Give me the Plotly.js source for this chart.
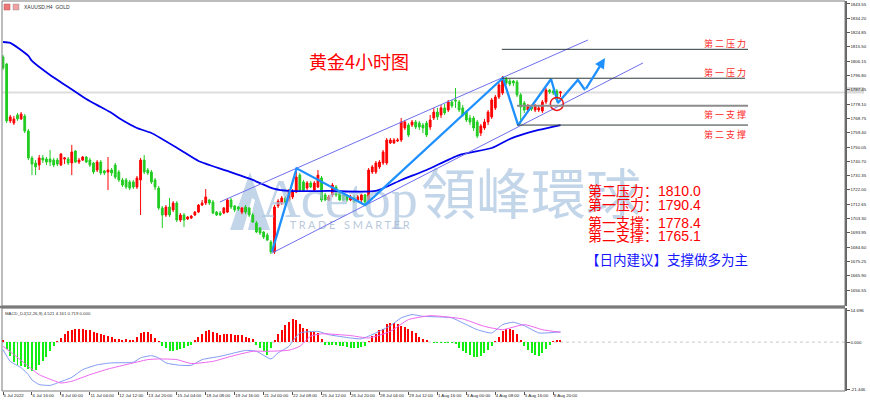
<!DOCTYPE html>
<html><head><meta charset="utf-8">
<script src="https://cdn.plot.ly/plotly-3.0.1.min.js"></script>
<style>html,body{margin:0;padding:0;background:#fff}#chart{width:870px;height:403px}</style>
</head><body><div id="chart"></div>
<script>
// ---------------- DATA ----------------
const openP = [1808.9,1804.3,1767.1,1765.7,1771.0,1768.4,1770.3,1760.5,1742.9,1739.6,
1738.3,1742.9,1742.2,1742.2,1741.5,1741.5,1738.3,1742.2,1742.2,1739.6,
1747.4,1740.2,1741.5,1743.5,1741.5,1739.6,1735.0,1740.2,1734.4,1733.7,
1735.0,1738.3,1733.7,1728.5,1728.5,1727.2,1727.2,1723.9,1728.5,1741.5,
1735.0,1733.7,1728.5,1723.2,1710.2,1705.6,1710.8,1708.9,1713.4,1702.3,
1705.6,1703.0,1703.6,1705.6,1707.5,1712.1,1713.4,1715.4,1714.1,1707.5,
1706.9,1706.9,1707.5,1715.4,1711.5,1710.8,1707.5,1710.8,1710.2,1705.6,
1700.4,1697.1,1694.5,1692.5,1687.9,1681.4,1711.5,1713.4,1716.7,1715.4,
1717.4,1720.6,1731.7,1727.2,1723.2,1726.5,1721.9,1723.9,1729.8,1718.7,
1715.4,1718.7,1723.9,1720.6,1718.7,1718.0,1715.4,1717.4,1715.4,1715.4,
1718.7,1714.1,1733.7,1733.7,1737.0,1739.6,1739.6,1752.7,1752.7,1754.0,
1754.6,1762.5,1764.4,1764.4,1766.4,1765.7,1764.4,1765.7,1763.1,1769.0,
1772.9,1771.0,1775.6,1774.2,1779.5,1780.8,1779.5,1775.6,1772.9,1769.0,
1769.0,1766.4,1759.2,1762.5,1766.4,1769.7,1775.6,1782.7,1785.4,1794.5,
1793.2,1793.2,1792.6,1784.1,1778.8,1774.2,1776.2,1774.2,1774.2,1773.6,
1779.5,1787.3,1786.7,1786.7,1785.4];
const highP = [1810.2,1805.0,1771.0,1770.3,1772.3,1772.9,1771.6,1761.8,1744.2,1741.5,
1744.8,1744.8,1743.5,1748.1,1742.9,1742.9,1746.1,1743.5,1743.5,1751.4,
1748.1,1742.9,1744.2,1744.2,1742.9,1740.2,1741.5,1741.5,1735.0,1743.5,
1736.3,1739.6,1735.0,1729.8,1729.8,1728.5,1728.5,1731.1,1742.9,1744.8,
1736.3,1735.0,1729.8,1724.5,1711.5,1712.1,1716.7,1714.7,1714.7,1706.9,
1706.9,1704.9,1705.6,1708.2,1712.8,1715.4,1722.6,1716.0,1715.4,1708.2,
1708.2,1710.8,1716.7,1716.7,1712.1,1711.5,1710.8,1712.1,1710.8,1706.9,
1701.7,1697.7,1695.1,1693.8,1689.2,1712.1,1716.0,1718.0,1718.0,1722.6,
1722.6,1736.3,1733.1,1728.5,1727.8,1727.8,1727.8,1735.0,1731.1,1720.0,
1718.7,1726.5,1725.2,1721.9,1720.0,1718.7,1718.7,1718.7,1718.7,1719.3,
1719.3,1736.3,1738.3,1740.9,1741.5,1748.1,1755.9,1755.9,1755.9,1755.9,
1769.0,1767.7,1765.7,1767.7,1767.7,1767.1,1765.7,1767.1,1771.0,1775.6,
1775.6,1777.5,1778.2,1780.8,1780.8,1788.6,1780.8,1777.5,1774.2,1771.0,
1770.3,1767.7,1765.1,1768.4,1774.2,1782.1,1784.1,1791.9,1796.5,1795.8,
1794.5,1793.9,1793.9,1785.4,1780.1,1778.2,1777.5,1778.2,1777.5,1780.8,
1788.6,1788.0,1788.0,1788.0,1786.7];
const lowP = [1800.4,1765.7,1765.7,1764.4,1767.1,1767.7,1759.2,1741.5,1731.7,1731.7,
1735.0,1739.6,1738.3,1737.6,1737.0,1737.6,1737.6,1738.9,1738.3,1731.7,
1739.6,1738.9,1740.9,1739.6,1737.0,1732.4,1733.7,1731.7,1731.7,1721.9,
1731.1,1729.1,1727.2,1723.9,1722.6,1721.9,1722.6,1722.6,1705.6,1732.4,
1731.7,1725.9,1721.9,1708.9,1697.1,1704.3,1704.3,1707.5,1701.0,1701.0,
1697.7,1702.3,1703.0,1704.9,1706.9,1711.5,1712.1,1712.1,1706.2,1704.9,
1704.9,1706.2,1706.9,1709.5,1707.5,1708.2,1706.2,1706.2,1704.3,1700.4,
1693.8,1692.5,1689.9,1688.6,1680.1,1680.1,1710.2,1712.1,1712.1,1714.1,
1716.0,1720.0,1720.6,1720.6,1721.9,1723.2,1720.6,1723.2,1714.1,1714.7,
1714.7,1717.4,1717.4,1714.7,1714.7,1714.1,1714.7,1713.4,1714.7,1714.1,
1712.1,1712.8,1732.4,1732.4,1735.7,1738.3,1738.3,1752.0,1752.0,1753.3,
1753.3,1761.2,1756.6,1763.1,1761.8,1761.2,1759.2,1756.6,1761.2,1767.7,
1767.7,1769.0,1771.0,1772.9,1775.6,1775.6,1772.9,1769.7,1766.4,1764.4,
1760.5,1755.9,1757.2,1761.2,1764.4,1768.4,1774.2,1781.4,1784.1,1790.6,
1789.9,1789.9,1782.7,1765.1,1772.3,1772.9,1773.6,1772.9,1772.9,1772.3,
1778.2,1784.7,1784.1,1779.5,1782.7];
const closeP = [1801.7,1767.1,1769.7,1768.4,1768.4,1771.6,1760.5,1742.9,1738.9,1737.0,
1742.9,1741.5,1740.2,1740.2,1738.3,1738.9,1745.5,1742.9,1739.6,1746.8,
1740.2,1741.5,1743.5,1740.2,1738.3,1733.7,1740.2,1733.1,1733.1,1735.0,
1733.1,1730.4,1728.5,1725.2,1723.9,1723.2,1723.9,1729.8,1741.5,1733.7,
1733.1,1727.2,1723.9,1710.2,1705.6,1710.8,1705.6,1713.4,1702.3,1705.6,
1702.3,1704.3,1704.9,1707.5,1712.1,1713.4,1717.4,1713.4,1706.9,1705.6,
1705.6,1710.2,1715.4,1710.8,1708.9,1709.5,1710.2,1707.5,1705.6,1701.0,
1694.5,1693.8,1691.2,1689.2,1681.4,1710.8,1714.7,1716.7,1713.4,1721.9,
1720.6,1730.4,1721.9,1721.9,1726.5,1723.9,1726.5,1731.7,1715.4,1715.4,
1717.4,1725.2,1718.7,1715.4,1715.4,1715.4,1717.4,1714.1,1717.4,1718.7,
1714.1,1735.0,1737.0,1739.6,1740.2,1746.8,1754.6,1754.6,1754.6,1754.6,
1766.4,1766.4,1757.9,1766.4,1763.1,1763.1,1762.5,1757.9,1767.7,1772.9,
1769.7,1775.6,1772.3,1779.5,1776.9,1780.1,1774.2,1771.0,1767.7,1766.4,
1762.5,1757.2,1763.8,1766.4,1772.9,1780.8,1782.7,1790.6,1795.2,1791.9,
1791.2,1791.9,1784.1,1776.2,1774.2,1776.9,1774.9,1776.9,1775.6,1779.5,
1787.3,1786.0,1785.4,1780.8,1786.0];

// moving average (blue line): bar index -> price
const maIdx = [0,2,7,8,13,18,23,27,30,32,37,41,49,54,62,69,75,79,90,103,110,117,126,135,140,144,148,154];
const maVal = [1818.7,1818.1,1809.6,1806.3,1797.1,1789.3,1781.4,1776.2,1772.3,1769.0,1762.5,1759.2,1748.1,1740.9,1734.4,1728.5,1722.6,1721.3,1721.3,1721.3,1728.5,1735.0,1744.8,1749.4,1755.3,1758.6,1761.2,1764.4];

// MACD histogram, one value per bar
const macdHist = [1.2,-3.0,-6.5,-9.0,-10.3,-10.8,-11.5,-12.3,-13.3,-12.6,
-10.5,-8.8,-6.6,-4.2,-1.9,0.6,2.0,3.6,5.0,5.7,
6.0,6.0,5.8,5.7,5.5,4.6,4.3,3.5,3.1,2.8,
2.4,1.6,1.5,1.2,1.5,1.1,1.2,2.4,4.3,4.8,
4.6,3.5,2.0,0.4,-1.8,-2.6,-4.0,-4.0,-3.6,-3.2,
-2.7,-2.0,-1.4,0.9,2.4,3.8,5.0,5.5,4.7,4.0,
3.2,3.5,3.5,3.5,3.1,3.1,3.1,2.4,1.8,1.5,
-1.1,-2.6,-4.0,-6.1,-2.6,1.2,3.5,5.7,8.0,9.2,
10.7,10.0,8.1,6.6,5.8,4.7,4.7,4.3,1.5,-1.1,
-1.5,-1.1,-1.1,-1.8,-1.8,-2.2,-2.6,-2.6,-2.6,-2.2,
-2.0,0.5,2.7,3.8,5.5,6.1,8.1,8.6,8.6,8.1,
7.6,7.1,6.1,5.0,4.3,2.4,1.5,0.9,0.2,-0.2,
-0.4,-0.5,-0.4,-0.6,-0.6,-0.9,-2.6,-4.1,-5.2,-5.8,
-6.6,-7.0,-6.2,-5.0,-3.6,-1.8,0.3,2.4,5.0,6.1,
6.1,5.5,3.8,0.9,-1.8,-3.4,-4.8,-5.8,-6.2,-5.2,
-3.2,-1.2,0.5,0.8,0.8];
// MACD main line (light blue) and signal line (violet), sampled
const macdIdx = [0,2,5,7,8,10,13,15,19,22,26,30,36,38,41,43,45,49,52,55,60,64,67,70,74,76,79,80,82,87,90,96,99,103,107,110,113,116,121,124,127,131,135,138,141,144,148,150,154];
const macdVal = [-3.4,-8.8,-11.7,-14.9,-17.3,-19.4,-19.8,-18.7,-16.1,-12.6,-10.4,-9.5,-9.2,-7.2,-6.2,-7.2,-9.5,-10.6,-10.6,-8.0,-6.5,-4.9,-3.8,-4.2,-7.7,-4.9,-1.9,0.4,4.2,4.9,3.4,1.9,1.5,4.2,7.5,11.1,12.6,11.8,11.5,11.1,8.8,5.7,4.2,8.0,9.1,7.5,4.2,4.2,4.7];
const sigIdx = [0,3,7,10,14,16,19,24,29,34,40,43,48,52,58,63,69,73,79,82,85,88,96,101,107,112,118,121,127,133,138,144,149,154];
const sigVal = [-1.9,-5.7,-11.1,-14.9,-17.6,-18.7,-17.9,-14.9,-12.3,-10.3,-8.0,-7.7,-8.0,-9.8,-8.8,-6.5,-4.2,-4.2,-3.7,-1.9,2.7,3.8,3.0,1.9,4.9,10.3,12.1,11.8,10.6,7.2,5.7,8.0,5.7,4.5];

// axis labels
const dateLabels = ["5 Jul 2022","6 Jul 16:00","8 Jul 00:00","11 Jul 04:00","12 Jul 12:00","13 Jul 20:00","15 Jul 04:00","18 Jul 08:00","19 Jul 16:00","21 Jul 00:00","22 Jul 08:00","25 Jul 12:00","26 Jul 20:00","28 Jul 04:00","29 Jul 12:00","1 Aug 16:00","3 Aug 00:00","4 Aug 08:00","5 Aug 16:00","8 Aug 20:00"];
const priceTicks = [1656.55,1665.90,1675.25,1684.60,1693.95,1703.30,1712.65,1722.00,1731.35,1740.70,1750.05,1759.40,1768.75,1778.10,1787.45,1796.80,1806.15,1815.50,1824.85,1834.20,1843.55];
const macdTicks = [14.696,0,-21.446];
const macdTickText = ["14.696","0.000","-21.446"];

// hand-drawn analysis objects (bar index, price)
const zigIdx = [74.3,81.1,100,138.1,142.3,151.4,153.3,158.8,160.8];
const zigVal = [1681.6,1736.1,1712.1,1795.2,1764.4,1794.5,1778.8,1793.9,1787.3];
const arrowTip = [166.3,1808.2];
const chanLower = [[74.3,1680.7],[176.8,1805.0]];
const chanUpper = [[59.9,1714.1],[161.6,1820.0]];
const levelNames = ["第二压力","第一压力","第一支撑","第二支撑"];
const levelPrices = [1813.9,1795.0,1777.05,1764.4];
const levelFrom = [137.8,137.8,142,142];
const levelTo = [205.8,205,205.8,205.8];
const summaryNames = ["第二压力：","第一压力：","第一支撑：","第二支撑："];
const summaryValues = [1810.0,1790.4,1778.4,1765.1];
const adviceText = "【日内建议】支撑做多为主";
const titleText = "黄金4小时图";
const bidPrice = 1785.7;
const circlePoint = [153.0,1778.2];

// ---------------- DRAWING ----------------
const W=870,H=403;
const fx = x => x/W, fy = y => 1 - y/H;
const idx = openP.map((_,i)=>i);
const CJK = "Noto Sans CJK SC";
const WM = 'rgba(170,195,222,0.7)';

const traces = [];
// watermark (behind everything)
traces.push({type:'scatter',mode:'text',x:[71.5],y:[1713.0],text:['Acetop'],textposition:'middle right',
  textfont:{family:'Liberation Serif',size:54,color:WM},hoverinfo:'skip',xaxis:'x',yaxis:'y'});
traces.push({type:'scatter',mode:'text',x:[115.5],y:[1715.0],text:['領峰環球'],textposition:'middle right',
  textfont:{family:'Noto Sans CJK TC',size:55,color:WM},hoverinfo:'skip',xaxis:'x',yaxis:'y'});
traces.push({type:'scatter',mode:'text',x:[79.2],y:[1698.0],text:['T R A D E   S M A R T E R'],textposition:'middle right',
  textfont:{family:'Lato',size:11,color:'rgba(170,190,212,0.85)'},hoverinfo:'skip',xaxis:'x',yaxis:'y'});

// MA
traces.push({type:'scatter',mode:'lines',x:maIdx,y:maVal,line:{color:'#0000ee',width:1.8,shape:'spline',smoothing:0.6},hoverinfo:'skip'});
// candles
traces.push({type:'candlestick',x:idx,open:openP,high:highP,low:lowP,close:closeP,
  increasing:{line:{color:'#ff0000',width:1},fillcolor:'#ff0000'},
  decreasing:{line:{color:'#22cc22',width:1},fillcolor:'#22cc22'},
  whiskerwidth:0,hoverinfo:'skip',xaxis:'x',yaxis:'y'});
// channel lines
[chanLower,chanUpper].forEach(c=>traces.push({type:'scatter',mode:'lines',x:[c[0][0],c[1][0]],y:[c[0][1],c[1][1]],
  line:{color:'#6f6fee',width:1},hoverinfo:'skip'}));
// zigzag
traces.push({type:'scatter',mode:'lines',x:zigIdx,y:zigVal,line:{color:'#1e90ff',width:2.3},hoverinfo:'skip'});
// circle
traces.push({type:'scatter',mode:'markers',x:[circlePoint[0]],y:[circlePoint[1]],
  marker:{symbol:'circle-open',size:13,color:'#ee1111',line:{width:1.5,color:'#ee1111'}},hoverinfo:'skip'});

// MACD
traces.push({type:'bar',x:idx,y:macdHist,width:0.55,marker:{color:macdHist.map(v=>v>=0?'#ff0000':'#11ee11'),line:{width:0}},
  xaxis:'x2',yaxis:'y2',hoverinfo:'skip'});
traces.push({type:'scatter',mode:'lines',x:macdIdx,y:macdVal,line:{color:'#7f9af2',width:1,shape:'spline',smoothing:0.5},xaxis:'x2',yaxis:'y2',hoverinfo:'skip'});
traces.push({type:'scatter',mode:'lines',x:sigIdx,y:sigVal,line:{color:'#ee66ee',width:1,shape:'spline',smoothing:0.5},xaxis:'x2',yaxis:'y2',hoverinfo:'skip'});

const shapes = [];
// current bid line
shapes.push({type:'line',xref:'x',yref:'y',x0:-0.3,x1:232.6,y0:bidPrice,y1:bidPrice,line:{color:'#dedede',width:2},layer:'below'});
// level lines
levelPrices.forEach((p,i)=>shapes.push({type:'line',xref:'x',yref:'y',x0:levelFrom[i],x1:levelTo[i],y0:p,y1:p,
  line:{color:i===2?'#8c8c8c':'#2e3b3b',width:i===2?2:1}}));
// logo triangle (watermark)
shapes.push({type:'path',xref:'paper',yref:'paper',layer:'below',
  path:`M ${fx(230)},${fy(230)} L ${fx(250)},${fy(172)} L ${fx(270)},${fy(230)} Z`,
  fillcolor:WM,line:{width:0}});
shapes.push({type:'path',xref:'paper',yref:'paper',layer:'below',
  path:`M ${fx(243)},${fy(230)} L ${fx(252)},${fy(198)} L ${fx(255)},${fy(200)} L ${fx(248)},${fy(230)} Z`,
  fillcolor:'#ffffff',line:{width:0}});
// panel frames
shapes.push({type:'rect',xref:'paper',yref:'paper',x0:fx(2),x1:fx(845),y0:fy(306),y1:fy(1),line:{color:'#7a7a7a',width:1}});
shapes.push({type:'line',xref:'paper',yref:'paper',x0:fx(0),x1:fx(845),y0:fy(307),y1:fy(307),line:{color:'#7a7a7a',width:2.5}});
shapes.push({type:'rect',xref:'paper',yref:'paper',x0:fx(2),x1:fx(845),y0:fy(391),y1:fy(308),line:{color:'#7a7a7a',width:1}});
// MACD zero line
shapes.push({type:'line',xref:'x2',yref:'y2',x0:-0.3,x1:232.6,y0:0,y1:0,line:{color:'#c8c8c8',width:1,dash:'dot'},layer:'below'});
// bid label box
shapes.push({type:'rect',xref:'paper',yref:'paper',x0:fx(846),x1:fx(864),y0:fy(93.5),y1:fy(87),fillcolor:'#d9d9d9',line:{width:0},layer:'below'});
// top-left icons
shapes.push({type:'rect',xref:'paper',yref:'paper',x0:fx(4),x1:fx(10),y0:fy(10),y1:fy(4),fillcolor:'#e77',line:{color:'#b55',width:0.5}});
shapes.push({type:'rect',xref:'paper',yref:'paper',x0:fx(13),x1:fx(19),y0:fy(10),y1:fy(4),fillcolor:'#f0a0a0',line:{color:'#999',width:0.5}});

const ann = [];
ann.push({xref:'x',yref:'y',axref:'x',ayref:'y',x:arrowTip[0],y:arrowTip[1],ax:zigIdx[zigIdx.length-1],ay:zigVal[zigVal.length-1],
  showarrow:true,arrowhead:2,arrowsize:0.9,arrowwidth:2.3,arrowcolor:'#1e90ff',text:''});
ann.push({xref:'paper',yref:'paper',x:fx(359),y:fy(46),text:titleText,showarrow:false,font:{family:CJK,size:18,color:'#ff0000'}});
const lblY = [43,72.5,114,134];
levelNames.forEach((n,i)=>ann.push({xref:'paper',yref:'paper',x:fx(748),y:fy(lblY[i]),xanchor:'right',yanchor:'middle',
  text:n.split('').join(' '),showarrow:false,font:{family:CJK,size:9,color:'#ff2a2a'}}));
const sumY = [191,205,222.5,236];
summaryNames.forEach((n,i)=>ann.push({xref:'paper',yref:'paper',x:fx(586),y:fy(sumY[i]),xanchor:'left',yanchor:'middle',
  text:n+summaryValues[i].toFixed(1),showarrow:false,font:{family:'Liberation Sans, '+CJK,size:14,color:'#ff0000'}}));
ann.push({xref:'paper',yref:'paper',x:fx(584),y:fy(258.5),xanchor:'left',yanchor:'middle',text:adviceText,showarrow:false,
  font:{family:CJK,size:13.5,color:'#1515ff'}});
ann.push({xref:'paper',yref:'paper',x:fx(22),y:fy(7),xanchor:'left',yanchor:'middle',text:'XAUUSD,H4  GOLD',showarrow:false,
  font:{family:'Liberation Sans',size:5,color:'#333'}});
ann.push({xref:'paper',yref:'paper',x:fx(3),y:fy(313),xanchor:'left',yanchor:'middle',text:'MACD_DJ(12,26,9) 4.521 4.161 0.719 0.000',showarrow:false,
  font:{family:'Liberation Sans',size:4.3,color:'#333'}});

const tickFont = {family:'Liberation Sans',size:4.4,color:'#222'};
const layout = {
  width:W,height:H,margin:{l:0,r:0,t:0,b:0},paper_bgcolor:'#ffffff',plot_bgcolor:'rgba(0,0,0,0)',showlegend:false,
  bargap:0,
  xaxis:{domain:[fx(2),fx(845)],range:[-0.28,232.6],showticklabels:false,ticks:'',showgrid:false,zeroline:false,
    rangeslider:{visible:false},anchor:'y',fixedrange:true,showline:false},
  yaxis:{domain:[fy(306),fy(1)],range:[1646.1,1845.5],side:'right',anchor:'x',tickvals:priceTicks,ticktext:priceTicks.map(v=>v.toFixed(2)),
    ticks:'outside',ticklen:3,tickcolor:'#555',showline:true,linecolor:'#666',linewidth:1.5,showgrid:false,zeroline:false,tickfont:tickFont,fixedrange:true},
  xaxis2:{domain:[fx(2),fx(845)],range:[-0.28,232.6],anchor:'y2',tickvals:dateLabels.map((_,i)=>i*8),ticktext:dateLabels,tickangle:0,
    ticks:'outside',ticklen:3,tickcolor:'#555',ticklabelposition:'outside right',tickfont:tickFont,showgrid:false,zeroline:false,showline:false,fixedrange:true},
  yaxis2:{domain:[fy(391),fy(308)],range:[-22.36,15.61],side:'right',anchor:'x2',tickvals:macdTicks,ticktext:macdTickText,
    ticks:'outside',ticklen:3,tickcolor:'#555',showline:true,linecolor:'#666',linewidth:1.5,showgrid:false,zeroline:false,tickfont:tickFont,fixedrange:true},
  shapes:shapes,annotations:ann
};
Plotly.newPlot('chart',traces,layout,{staticPlot:true,displayModeBar:false});
</script></body></html>
